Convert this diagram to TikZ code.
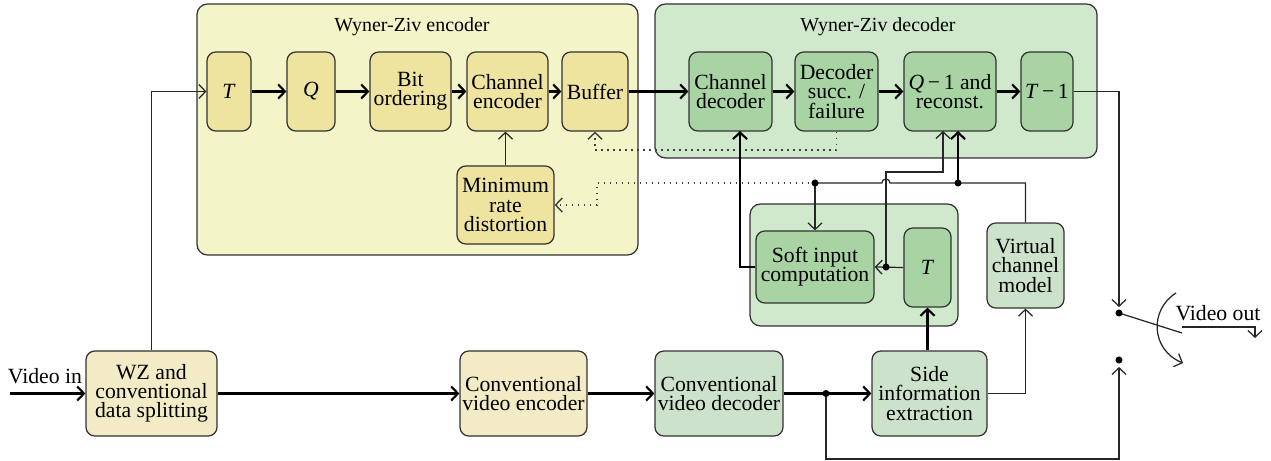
\documentclass[tikz,border=0pt]{standalone}
\usepackage{fontspec}
\setmainfont{Liberation Serif}
\usetikzlibrary{arrows.meta}
\definecolor{encbg}{RGB}{243,244,200}
\definecolor{encin}{RGB}{238,228,160}
\definecolor{decbg}{RGB}{208,232,204}
\definecolor{decin}{RGB}{168,212,164}
\definecolor{botY}{RGB}{243,234,198}
\definecolor{botG}{RGB}{205,226,202}
\definecolor{lgray}{RGB}{50,50,50}
\begin{document}
\begin{tikzpicture}[x=0.5667pt,y=-0.5667pt,
 wh/.style 2 args={minimum width=#1*0.5667pt, minimum height=#2*0.5667pt},
 blk/.style={draw=lgray, line width=0.7pt, rounded corners=5pt, align=center, inner sep=0pt, font=\fontsize{12.3}{10.9}\selectfont},
 grp/.style={draw=lgray, line width=0.7pt, rounded corners=6pt, inner sep=0pt},
 tip/.style={-{Straight Barb[length=3.8pt,width=8pt]}},
 thk/.style={line width=1.2pt, tip},
 thn/.style={line width=0.7pt, draw=black!85, tip},
 thnn/.style={line width=0.7pt, draw=black!85},
 dotl/.style={line width=0.8pt, draw=black!75, dash pattern=on 0.8pt off 2.6pt},
 jdot/.style={circle, fill=black, inner sep=0pt, minimum size=4pt},
 ttl/.style={font=\fontsize{11.3}{12}\selectfont},
 lbl/.style={font=\fontsize{12.3}{12}\selectfont, inner sep=0pt}
]
\useasboundingbox (0,0) rectangle (1271,461);
% group boxes
\node[grp, fill=encbg, wh={441}{251}] (enc) at (417.5,129.5) {};
\node[grp, fill=decbg, wh={442}{154}] (dec) at (876,81) {};
\node[grp, fill=decbg, wh={208}{122}] (sgrp) at (854,265) {};
\node[ttl] (enctitle) at (412,27) {Wyner-Ziv encoder};
\node[ttl] (dectitle) at (878,27) {Wyner-Ziv decoder};
% encoder blocks
\node[blk, fill=encin, wh={44}{79}] (T) at (229,91.5) {\textit{T}};
\node[blk, fill=encin, wh={48}{79}] (Q) at (311,91.5) {\textit{Q}};
\node[blk, fill=encin, wh={81}{79}] (bit) at (410.5,91.5) {Bit\\ordering};
\node[blk, fill=encin, wh={81}{79}] (chenc) at (507.5,91.5) {Channel\\encoder};
\node[blk, fill=encin, wh={66}{79}] (buf) at (595,91.5) {Buffer};
\node[blk, fill=encin, wh={97}{78}] (mrd) at (505.5,205) {Minimum\\rate\\distortion};
% decoder blocks
\node[blk, fill=decin, wh={83}{79}] (chdec) at (730.5,91.5) {Channel\\decoder};
\node[blk, fill=decin, wh={83}{79}] (dsf) at (836.5,91.5) {Decoder\\succ. /\\failure};
\node[blk, fill=decin, wh={92}{79}] (qinv) at (950,91.5) {\textit{Q}\,−\,1 and\\reconst.};
\node[blk, fill=decin, wh={52}{79}] (tinv) at (1047,91.5) {\textit{T}\,−\,1};
% side blocks
\node[blk, fill=decin, wh={118}{72}] (soft) at (815,267) {Soft input\\computation};
\node[blk, fill=decin, wh={47}{79}] (tin) at (927.5,267.5) {\textit{T}};
\node[blk, fill=botG, wh={77}{85}] (vcm) at (1025.5,265.5) {Virtual\\channel\\model};
% bottom row
\node[blk, fill=botY, wh={131}{85}] (wz) at (151.5,393.5) {WZ and\\conventional\\data splitting};
\node[blk, fill=botY, wh={127}{85}] (cve) at (523.5,393.5) {Conventional\\video encoder};
\node[blk, fill=botG, wh={128}{85}] (cvd) at (719,393.5) {Conventional\\video decoder};
\node[blk, fill=botG, wh={115}{85}] (sie) at (929.5,393.5) {Side\\information\\extraction};
% labels
\node[lbl] (vinl) at (45,376) {Video in};
\node[lbl] (voutl) at (1218,313) {Video out};
% coordinates
\coordinate (vin) at (10,393.5);
\coordinate (j1) at (815,183);
\coordinate (j2) at (958,183);
\coordinate (j3) at (886,267);
\coordinate (j4) at (826,393.5);
\coordinate (qa) at (943,131);
\coordinate (qb) at (958,131);
\coordinate (cdin) at (740,131);
\coordinate (s1) at (1119,313);
\coordinate (s2) at (1119,360);
\coordinate (sw) at (1182,333);
\coordinate (oa) at (1182,327);
\coordinate (ob) at (1255,338);
% main chain
\draw[thk] (vin) -- (wz.west);
\draw[thn] (wz.north) |- (T.west);
\draw[thk] (T) -- (Q);
\draw[thk] (Q) -- (bit);
\draw[thk] (bit) -- (chenc);
\draw[thk] (chenc) -- (buf);
\draw[thk] (buf) -- (chdec);
\draw[thk] (chdec) -- (dsf);
\draw[thk] (dsf) -- (qinv);
\draw[thk] (qinv) -- (tinv);
\draw[thn] (mrd.north) -- (mrd.north |- chenc.south);
\draw[thk] (wz) -- (cve);
\draw[thk] (cve) -- (cvd);
\draw[thk] (cvd) -- (sie);
% feedback dotted
\draw[dotl, tip] (dsf.south) -- (836.5,150) -| (buf.south);
\draw[dotl, tip] (j1) -- (597,183) |- (mrd.east);
% virtual channel model loop
\draw[thnn] (vcm.north) |- (j2) -- (890,183) arc[start angle=0, end angle=180, radius=2.3pt] -- (j1);
\draw[thn] (j1) -- (soft.north);
\draw[thk] (j2) -- (qb);
% T -> soft
\draw[thn] (tin.west) -- (soft.east);
\draw[thn] (j3) |- (943,172) -- (qa);
\draw[thk] (soft.west) -| (cdin);
% side info
\draw[thk] (tin.south |- sie.north) -- (tin.south);
\draw[thn] (sie.east) -| (vcm.south);
% output
\draw[thn] (tinv.east) -| (1119,307);
\draw[thn] (j4) -- (826,459) -| (1119,367);
\draw[thnn] (s1) -- (sw);
\draw[thn] (1176,293) .. controls (1149,310) and (1151,350) .. (1183,363);
\draw[thn] (oa) -| (ob);
% dots
\node[jdot] (d1) at (j1) {};
\node[jdot] (d2) at (j2) {};
\node[jdot] (d3) at (j3) {};
\node[jdot] (d4) at (j4) {};
\node[jdot] (d5) at (s1) {};
\node[jdot] (d6) at (s2) {};
\end{tikzpicture}
\end{document}
